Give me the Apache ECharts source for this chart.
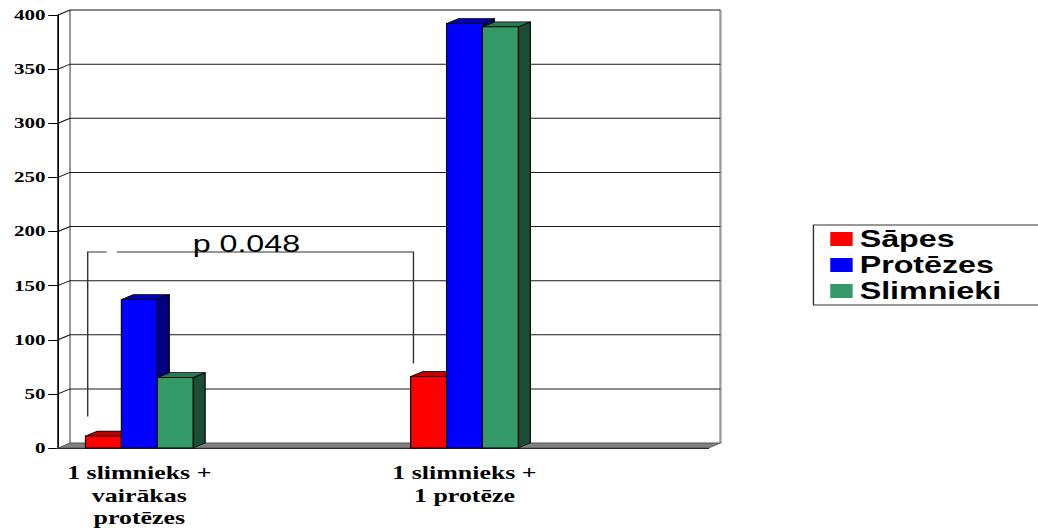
<!DOCTYPE html>
<html>
<head>
<meta charset="utf-8">
<script src="https://cdn.jsdelivr.net/npm/echarts@6/dist/echarts.min.js"></script>
<style>
html, body { margin: 0; padding: 0; background: #fff; overflow: hidden; }
#wrap { width: 1038px; height: 530px; overflow: hidden; }
/* the original picture is stretched sideways, so the chart is drawn narrow and widened */
#chart { width: 741px; height: 530px; transform: scaleX(1.4008); transform-origin: 0 0; }
</style>
</head>
<body>
<div id="wrap"><div id="chart"></div></div>
<script>
// dati
const categories = ['1 slimnieks +\nvairākas\nprotēzes', '', '1 slimnieks +\n1 protēze', '']
const sapes = [11, null, 66, null]
const protezes = [137, null, 392, null]
const slimnieki = [65, null, 389, null]
const seriesNames = ['Sāpes', 'Protēzes', 'Slimnieki']
const yTicks = [0, 50, 100, 150, 200, 250, 300, 350, 400]
// p vērtības iekava (vērtības pēc y ass)
const pLabel = 'p 0.048'
const bracketTop = 181
const bracketEnds = [29, 78]

// 3D izskats
const DX = 8.6
const DY = -5
const BAR_RATIO = 0.2207

const toData = arr => arr.map((v, i) => [i, v]).filter(d => d[1] != null)

const barRenderer = (idx, face, top, side) => (params, api) => {
  const cat = api.value(0)
  const p = api.coord([cat, api.value(1)])
  const b = api.coord([cat, 0])
  const w = api.size([1, 0])[0] * BAR_RATIO
  const x0 = p[0] + (idx - 1.5) * w
  const x1 = x0 + w
  const yT = p[1]
  const yB = b[1]
  const st = { stroke: '#000', lineWidth: 0.8, lineJoin: 'round' }
  return {
    type: 'group',
    children: [
      { type: 'polygon', shape: { points: [[x1, yT], [x1 + DX, yT + DY], [x1 + DX, yB + DY], [x1, yB]] }, style: { fill: side, ...st } },
      { type: 'polygon', shape: { points: [[x0, yT], [x1, yT], [x1 + DX, yT + DY], [x0 + DX, yT + DY]] }, style: { fill: top, ...st } },
      { type: 'rect', shape: { x: x0, y: yT, width: w, height: yB - yT }, style: { fill: face, ...st } }
    ]
  }
}

const wallRenderer = (params, api) => {
  const cs = params.coordSys
  const v = api.value(1)
  const y = api.coord([0, v])[1]
  const xl = cs.x
  const xr = cs.x + cs.width
  if (v === 0) {
    const yTop = api.coord([0, yTicks[yTicks.length - 1]])[1]
    return {
      type: 'group',
      children: [
        { type: 'line', shape: { x1: xl + DX, y1: yTop + DY, x2: xl + DX, y2: y + DY }, style: { stroke: '#888', lineWidth: 1.2 } },
        { type: 'line', shape: { x1: xr + DX, y1: yTop + DY, x2: xr + DX, y2: y + DY }, style: { stroke: '#999', lineWidth: 1.6 } },
        { type: 'polygon', shape: { points: [[xl, y], [xr, y], [xr + DX, y + DY], [xl + DX, y + DY]] }, style: { fill: '#808080', stroke: '#555', lineWidth: 0.8 } }
      ]
    }
  }
  return {
    type: 'polyline',
    shape: { points: [[xl, y], [xl + DX, y + DY], [xr + DX, y + DY]] },
    style: { stroke: '#1a1a1a', lineWidth: 1, fill: null }
  }
}

const bracketRenderer = (params, api) => {
  const w = api.size([1, 0])[0] * BAR_RATIO
  const top = api.coord([0, bracketTop])[1]
  const xL = api.coord([0, 0])[0] - 1.5 * w + 1.6
  const xR = api.coord([2, 0])[0] - 1.5 * w + 2
  const yL = api.coord([0, bracketEnds[0]])[1]
  const yR = api.coord([2, bracketEnds[1]])[1]
  const st = { stroke: '#333', lineWidth: 1, fill: null }
  return {
    type: 'group',
    children: [
      { type: 'polyline', shape: { points: [[xL, yL], [xL, top], [xL + 13.6, top]] }, style: st },
      { type: 'polyline', shape: { points: [[xL + 20.7, top], [xR, top], [xR, yR]] }, style: st },
      {
        type: 'text',
        style: {
          x: (xL + xR) / 2 - 3, y: top + 4,
          text: pLabel, fill: '#000',
          fontSize: 23, fontFamily: 'Liberation Sans, Arial, sans-serif',
          align: 'center', verticalAlign: 'bottom'
        }
      }
    ]
  }
}

const chart = echarts.init(document.getElementById('chart'), null, { renderer: 'svg' })

const option = {
  animation: false,
  backgroundColor: '#fff',
  grid: { left: 41.4, right: 235.3, top: 15, bottom: 82 },
  legend: {
    orient: 'vertical',
    left: 580.7,
    top: 225,
    padding: [1, 30, 1, 12],
    itemGap: 0,
    itemWidth: 16,
    itemHeight: 14,
    icon: 'rect',
    borderColor: '#333',
    borderWidth: 1,
    data: seriesNames,
    textStyle: {
      color: '#000',
      fontFamily: 'Liberation Sans, Arial, sans-serif',
      fontWeight: 'bold',
      fontSize: 23,
      lineHeight: 26
    }
  },
  xAxis: {
    type: 'category',
    data: categories,
    boundaryGap: true,
    axisLine: { lineStyle: { color: '#000', width: 1 } },
    axisTick: { length: 8, lineStyle: { color: '#000' } },
    axisLabel: {
      interval: 0,
      margin: 14,
      color: '#000',
      fontFamily: 'Liberation Serif, Times New Roman, serif',
      fontWeight: 'bold',
      fontSize: 18.5,
      lineHeight: 22.5
    },
    splitLine: { show: false }
  },
  yAxis: {
    type: 'value',
    min: 0,
    max: 400,
    interval: 50,
    axisLine: { show: true, lineStyle: { color: '#000', width: 1.2 } },
    axisTick: { show: true, length: 7, lineStyle: { color: '#000' } },
    axisLabel: {
      margin: 9,
      color: '#000',
      fontFamily: 'Liberation Serif, Times New Roman, serif',
      fontWeight: 'bold',
      fontSize: 15
    },
    splitLine: { show: false }
  },
  series: [
    {
      name: 'walls',
      type: 'custom',
      z: 1,
      silent: true,
      renderItem: wallRenderer,
      data: yTicks.map(v => [0, v])
    },
    {
      name: seriesNames[0],
      type: 'custom',
      z: 2,
      itemStyle: { color: '#ff0000' },
      renderItem: barRenderer(0, '#ff0000', '#c00000', '#800000'),
      data: toData(sapes)
    },
    {
      name: seriesNames[1],
      type: 'custom',
      z: 2,
      itemStyle: { color: '#0000ff' },
      renderItem: barRenderer(1, '#0000ff', '#0000c0', '#000080'),
      data: toData(protezes)
    },
    {
      name: seriesNames[2],
      type: 'custom',
      z: 2,
      itemStyle: { color: '#339966' },
      renderItem: barRenderer(2, '#339966', '#287a52', '#1c4d34'),
      data: toData(slimnieki)
    },
    {
      name: 'bracket',
      type: 'custom',
      z: 3,
      silent: true,
      renderItem: bracketRenderer,
      data: [[0, bracketTop]]
    }
  ]
}

chart.setOption(option)
</script>
</body>
</html>
